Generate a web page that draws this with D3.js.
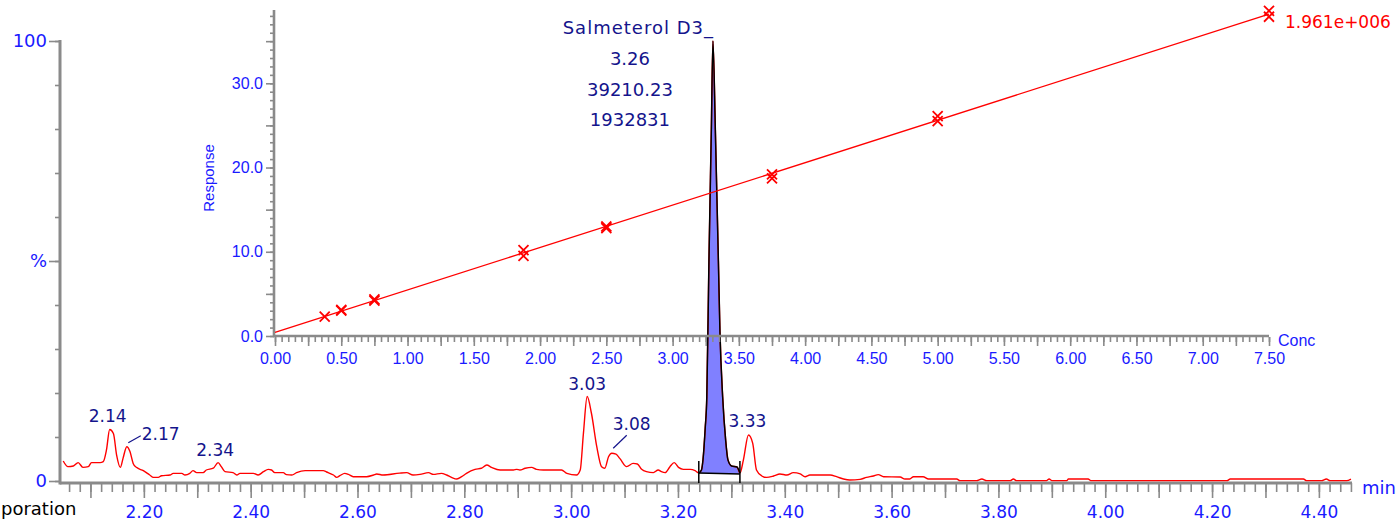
<!DOCTYPE html>
<html>
<head>
<meta charset="utf-8">
<script src="https://cdn.jsdelivr.net/npm/d3@7"></script>
<style>
  html, body { margin: 0; padding: 0; background: #fff; }
  svg { display: block; }
</style>
</head>
<body>
<svg id="chart" width="1400" height="522"></svg>
<script>
// ---- Chromatogram trace: retention time (min) and relative intensity (%) ----
const traceTime = [
  2.049,2.058,2.068,2.077,2.086,2.096,2.102,2.118,2.124,2.130,2.136,2.143,2.149,2.156,2.161,2.168,2.174,2.180,2.186,2.199,
  2.211,2.218,2.227,2.233,2.249,2.255,2.271,2.277,2.286,2.292,2.299,2.311,2.317,2.330,2.339,2.345,2.352,2.367,2.374,2.380,
  2.405,2.414,2.424,2.433,2.439,2.445,2.461,2.467,2.477,2.486,2.502,2.536,2.542,2.555,2.561,2.567,2.576,2.583,2.592,2.617,
  2.630,2.636,2.648,2.679,2.692,2.704,2.717,2.733,2.742,2.757,2.767,2.776,2.786,2.795,2.804,2.820,2.832,2.842,2.851,2.867,
  2.892,2.898,2.904,2.914,2.926,2.935,2.948,2.982,2.992,3.010,3.017,3.023,3.030,3.038,3.048,3.057,3.063,3.070,3.076,3.084,
  3.091,3.104,3.116,3.124,3.132,3.141,3.154,3.163,3.169,3.176,3.185,3.193,3.201,3.210,3.223,3.232,
  3.239,3.244,3.247,3.251,3.254,3.258,3.2625,3.2655,3.270,3.2757,3.2786,3.2837,3.2893,3.2936,3.3006,3.3105,3.316,
  3.3225,3.332,3.340,3.347,3.357,3.366,3.379,3.391,3.404,3.416,3.429,3.438,3.447,3.460,3.485,3.497,3.510,3.522,3.541,3.553,3.566,3.575,3.585,3.616,
  3.625,3.634,3.641,3.659,3.669,3.722,3.728,3.759,3.769,3.778,3.822,3.828,3.834,3.890,3.895,3.900,3.928,3.931,3.968,3.973,4.228,4.234,4.371,4.377,4.405,4.414,4.421,4.452,4.460
];
const traceIntensity = [
  4.55,3.26,3.4,4.17,3.1,3.26,4.17,4.17,4.4,7.05,11.7,10.8,5.9,3.1,5.15,7.8,6.7,4.0,3.1,2.35,
  1.36,0.83,0.83,1.2,1.36,1.74,1.74,1.36,1.74,2.35,1.9,1.9,2.5,2.9,4.17,3.26,2.12,1.9,1.36,1.74,
  1.74,1.36,2.12,2.65,2.5,1.9,1.9,1.44,1.36,1.9,2.35,2.35,2.05,1.36,0.83,1.2,1.74,1.5,0.98,0.98,
  1.36,1.6,1.36,1.8,1.9,1.36,1.5,1.9,1.5,1.74,1.36,0.83,0.45,0.98,1.74,2.65,2.9,3.64,3.1,2.5,
  2.5,2.65,2.5,2.9,3.1,2.65,2.5,2.5,1.74,1.36,2.5,10.83,19.2,15.4,7.8,3.26,2.9,5.5,6.3,6.1,
  5.15,3.26,4.0,3.86,2.65,2.12,1.9,2.5,2.12,1.9,3.26,4.17,3.1,2.65,2.65,2.35,
  1.8,2.5,5.0,12.0,19.1,50,79.8,100,79.8,50,34,19.1,9.3,4.8,3.4,3.2,1.8,
  4.77,10.45,8.56,2.5,1.14,0.83,1.14,1.6,1.36,1.9,1.6,0.98,1.36,1.36,1.36,0.98,0.45,0.23,0.38,0.83,1.14,1.44,0.98,0.9,
  0.45,0.45,0.98,0.98,0.45,0.45,0.08,0.08,0.45,0.08,0.08,0.45,0.08,0.08,0.45,0.08,0.08,0.45,0.45,0.08,0.08,0.45,0.45,0.08,0.08,0.45,0.08,0.08,0.45
];

// Labelled peaks (apex time, apex intensity, printed retention time)
const peakApexTime      = [2.136, 2.168, 2.339, 3.030, 3.076, 3.332];
const peakApexIntensity = [11.7, 7.8, 4.17, 19.2, 6.3, 10.45];
const peakRtLabels      = ["2.14", "2.17", "2.34", "3.03", "3.08", "3.33"];

// Integrated peak (Salmeterol D3)
const mainPeakName      = "Salmeterol D3";
const mainPeakApexTime  = 3.2655;
const mainPeakInfo      = ["3.26", "39210.23", "1932831"];
const integrationTime      = [3.239, 3.316];
const integrationBaseline  = [1.8, 1.6];

// Time axis labels
const timeTickLabels = [2.20, 2.40, 2.60, 2.80, 3.00, 3.20, 3.40, 3.60, 3.80, 4.00, 4.20, 4.40];
const percentTicks = [0, 50, 100];
const percentTickLabels = ["0", "%", "100"];

// ---- Calibration curve ----
const calConc     = [0.375, 0.5, 0.5, 0.75, 0.75, 1.875, 1.875, 2.5, 2.5, 3.75, 3.75, 5.0, 5.0, 7.5, 7.5];
const calResponse = [2.3, 3.0, 3.1, 4.2, 4.35, 9.5, 10.2, 12.8, 13.0, 18.7, 19.2, 25.5, 26.1, 37.9, 38.6];
const calLineConc     = [0, 7.5];
const calLineResponse = [0.44, 38.2];
const calTopLabel = "1.961e+006";
const concTickLabels = [0, 0.5, 1.0, 1.5, 2.0, 2.5, 3.0, 3.5, 4.0, 4.5, 5.0, 5.5, 6.0, 6.5, 7.0, 7.5];
const responseTickLabels = [0, 10, 20, 30];

// ---- styling ----
const AXIS_GREY = "#8a8a8a";
const AXIS_BLUE = "#1a1aff";
const NAVY = "#14148c";
const RED = "#ff0000";
const SANS_WIDE = "'DejaVu Sans', Verdana, sans-serif";
const SANS = "'Liberation Sans', Arial, sans-serif";

const svg = d3.select("#chart");

// ================= Chromatogram =================
const x = d3.scaleLinear().domain([2.043, 4.462]).range([60, 1352]);
const y = d3.scaleLinear().domain([0, 100]).range([481, 41]);
const AXIS_Y = 483;

const trace = traceTime.map((t, i) => ({ t, v: traceIntensity[i] }));

function styleAxis(g, color, family, size) {
  g.select(".domain").remove();
  g.selectAll(".tick line").attr("stroke", AXIS_GREY).attr("stroke-width", 1.6);
  g.selectAll(".tick text").attr("fill", color).attr("font-family", family).attr("font-size", size);
}

// time axis ticks
const minorTimes = d3.range(103, 224).map(i => i / 50);
const majorTimes = d3.range(21, 45).map(i => i / 10);
svg.append("g").attr("transform", `translate(0,${AXIS_Y})`)
  .call(d3.axisBottom(x).tickValues(minorTimes).tickSize(9).tickFormat(""))
  .call(g => styleAxis(g));
svg.append("g").attr("transform", `translate(0,${AXIS_Y})`)
  .call(d3.axisBottom(x).tickValues(majorTimes).tickSize(15).tickFormat(""))
  .call(g => styleAxis(g));
svg.append("g").attr("transform", `translate(0,${AXIS_Y})`)
  .call(d3.axisBottom(x).tickValues(timeTickLabels).tickSize(0).tickPadding(23).tickFormat(d3.format(".2f")))
  .call(g => styleAxis(g, AXIS_BLUE, SANS_WIDE, 17));

// intensity axis ticks
svg.append("g").attr("transform", "translate(60,0)")
  .call(d3.axisLeft(y).tickValues(d3.range(0, 101, 10)).tickSize(5).tickFormat(""))
  .call(g => styleAxis(g));
svg.append("g").attr("transform", "translate(60,0)")
  .call(d3.axisLeft(y).tickValues(percentTicks).tickSize(11).tickFormat((d, i) => percentTickLabels[i]).tickPadding(2))
  .call(g => styleAxis(g, AXIS_BLUE, SANS_WIDE, 18));

// axis lines
svg.append("line").attr("x1", x.range()[0]).attr("x2", x.range()[1]).attr("y1", AXIS_Y).attr("y2", AXIS_Y)
  .attr("stroke", AXIS_GREY).attr("stroke-width", 3);
svg.append("line").attr("x1", 60).attr("x2", 60).attr("y1", y(100) - 1).attr("y2", AXIS_Y + 1.5)
  .attr("stroke", AXIS_GREY).attr("stroke-width", 3);

svg.append("text").attr("x", 1362).attr("y", 494).attr("fill", AXIS_BLUE)
  .attr("font-family", SANS_WIDE).attr("font-size", 18).text("min");

svg.append("text").attr("x", 1).attr("y", 515).attr("fill", "#000")
  .attr("font-family", SANS_WIDE).attr("font-size", 18).text("poration");

// integrated peak fill
const [t0, t1] = integrationTime;
const baseAt = t => integrationBaseline[0] + (integrationBaseline[1] - integrationBaseline[0]) * (t - t0) / (t1 - t0);
const peakPts = trace.filter(d => d.t >= t0 - 1e-9 && d.t <= t1 + 1e-9);
svg.append("path").datum(peakPts)
  .attr("d", d3.area().x(d => x(d.t)).y0(d => y(baseAt(d.t))).y1(d => y(d.v)).curve(d3.curveMonotoneX))
  .attr("fill", "#8080ff").attr("stroke", "none");

// trace
svg.append("path").datum(trace)
  .attr("d", d3.line().x(d => x(d.t)).y(d => y(d.v)).curve(d3.curveMonotoneX))
  .attr("fill", "none").attr("stroke", RED).attr("stroke-width", 1.4).attr("stroke-linejoin", "round");

// peak outline and integration baseline
svg.append("path").datum(peakPts)
  .attr("d", d3.line().x(d => x(d.t)).y(d => y(d.v)).curve(d3.curveMonotoneX))
  .attr("fill", "none").attr("stroke", "#000").attr("stroke-width", 1.5);
svg.append("line")
  .attr("x1", x(t0)).attr("y1", y(integrationBaseline[0]))
  .attr("x2", x(t1)).attr("y2", y(integrationBaseline[1]))
  .attr("stroke", "#000").attr("stroke-width", 1.5);
integrationTime.forEach(t => {
  svg.append("line").attr("x1", x(t)).attr("x2", x(t)).attr("y1", 461).attr("y2", AXIS_Y)
    .attr("stroke", "#000").attr("stroke-width", 1.5);
});

// peak labels
const labelLayout = {
  "2.14": { anchor: "middle", dx: -2, dy: -8 },
  "2.17": { anchor: "start", dx: 15, dy: -7, leader: [1.5, -4, 14, -11] },
  "2.34": { anchor: "middle", dx: -3, dy: -7 },
  "3.03": { anchor: "middle", dx: 0, dy: -7 },
  "3.08": { anchor: "start", dx: 1, dy: -23, leader: [1.5, -5, 15, -18] },
  "3.33": { anchor: "middle", dx: -1, dy: -8 }
};
peakRtLabels.forEach((lab, i) => {
  const px = x(peakApexTime[i]), py = y(peakApexIntensity[i]);
  const L = labelLayout[lab];
  svg.append("text").attr("x", px + L.dx).attr("y", py + L.dy)
    .attr("text-anchor", L.anchor).attr("fill", NAVY)
    .attr("font-family", SANS_WIDE).attr("font-size", 17).text(lab);
  if (L.leader) {
    svg.append("line").attr("x1", px + L.leader[0]).attr("y1", py + L.leader[1])
      .attr("x2", px + L.leader[2]).attr("y2", py + L.leader[3])
      .attr("stroke", NAVY).attr("stroke-width", 1.2);
  }
});

// ================= Calibration inset =================
const xc = d3.scaleLinear().domain([0, 7.5]).range([275, 1269]);
const yc = d3.scaleLinear().domain([0, 38.7]).range([336, 10]);
const INSET_Y = 336;

svg.append("g").attr("transform", `translate(0,${INSET_Y + 1})`)
  .call(d3.axisBottom(xc).tickValues(d3.range(0, 151).map(i => i / 20)).tickSize(5).tickFormat(""))
  .call(g => styleAxis(g));
svg.append("g").attr("transform", `translate(0,${INSET_Y + 1})`)
  .call(d3.axisBottom(xc).tickValues(d3.range(0, 31).map(i => i / 4)).tickSize(9).tickFormat(""))
  .call(g => styleAxis(g));
svg.append("g").attr("transform", `translate(0,${INSET_Y})`)
  .call(d3.axisBottom(xc).tickValues(concTickLabels).tickSize(0).tickPadding(17).tickFormat(d3.format(".2f")))
  .call(g => styleAxis(g, AXIS_BLUE, SANS, 16));

svg.append("g").attr("transform", "translate(274,0)")
  .call(d3.axisLeft(yc).tickValues(d3.range(0, 39)).tickSize(4).tickFormat(""))
  .call(g => styleAxis(g));
svg.append("g").attr("transform", "translate(274,0)")
  .call(d3.axisLeft(yc).tickValues(d3.range(0, 39, 5)).tickSize(8).tickFormat(""))
  .call(g => styleAxis(g));
svg.append("g").attr("transform", "translate(274,0)")
  .call(d3.axisLeft(yc).tickValues(responseTickLabels).tickSize(0).tickPadding(11).tickFormat(d3.format(".1f")))
  .call(g => styleAxis(g, AXIS_BLUE, SANS, 16));

svg.append("line").attr("x1", 273).attr("x2", xc(7.5)).attr("y1", INSET_Y).attr("y2", INSET_Y)
  .attr("stroke", AXIS_GREY).attr("stroke-width", 2.6);
svg.append("line").attr("x1", 274).attr("x2", 274).attr("y1", yc.range()[1]).attr("y2", INSET_Y + 1)
  .attr("stroke", AXIS_GREY).attr("stroke-width", 2.6);

svg.append("text").attr("x", xc(7.5) + 9).attr("y", 346).attr("fill", AXIS_BLUE)
  .attr("font-family", SANS).attr("font-size", 16).text("Conc");
svg.append("text").attr("transform", "translate(214,178) rotate(-90)").attr("text-anchor", "middle")
  .attr("fill", AXIS_BLUE).attr("font-family", SANS).attr("font-size", 15).text("Response");

// calibration line
const calLine = calLineConc.map((c, i) => ({ c, r: calLineResponse[i] }));
svg.append("path").datum(calLine)
  .attr("d", d3.line().x(d => xc(d.c)).y(d => yc(d.r)))
  .attr("fill", "none").attr("stroke", RED).attr("stroke-width", 1.3);

// calibration points
calConc.forEach((c, i) => {
  svg.append("path").attr("transform", `translate(${xc(c)},${yc(calResponse[i])})`)
    .attr("d", "M-5,-5L5,5M5,-5L-5,5")
    .attr("stroke", RED).attr("stroke-width", 1.8).attr("fill", "none");
});

svg.append("text").attr("x", xc(7.5) + 16).attr("y", 28).attr("fill", RED)
  .attr("font-family", SANS_WIDE).attr("font-size", 17).text(calTopLabel);

// ================= Main peak annotation =================
const apexX = x(mainPeakApexTime);
svg.append("text").attr("x", apexX + 1).attr("y", 34).attr("text-anchor", "end")
  .attr("fill", NAVY).attr("font-family", SANS_WIDE).attr("font-size", 18)
  .attr("letter-spacing", 1).text(mainPeakName + "_");
mainPeakInfo.forEach((s, i) => {
  svg.append("text").attr("x", apexX - 83).attr("y", 65 + i * 30.5).attr("text-anchor", "middle")
    .attr("fill", NAVY).attr("font-family", SANS_WIDE).attr("font-size", 18).text(s);
});
</script>
</body>
</html>
